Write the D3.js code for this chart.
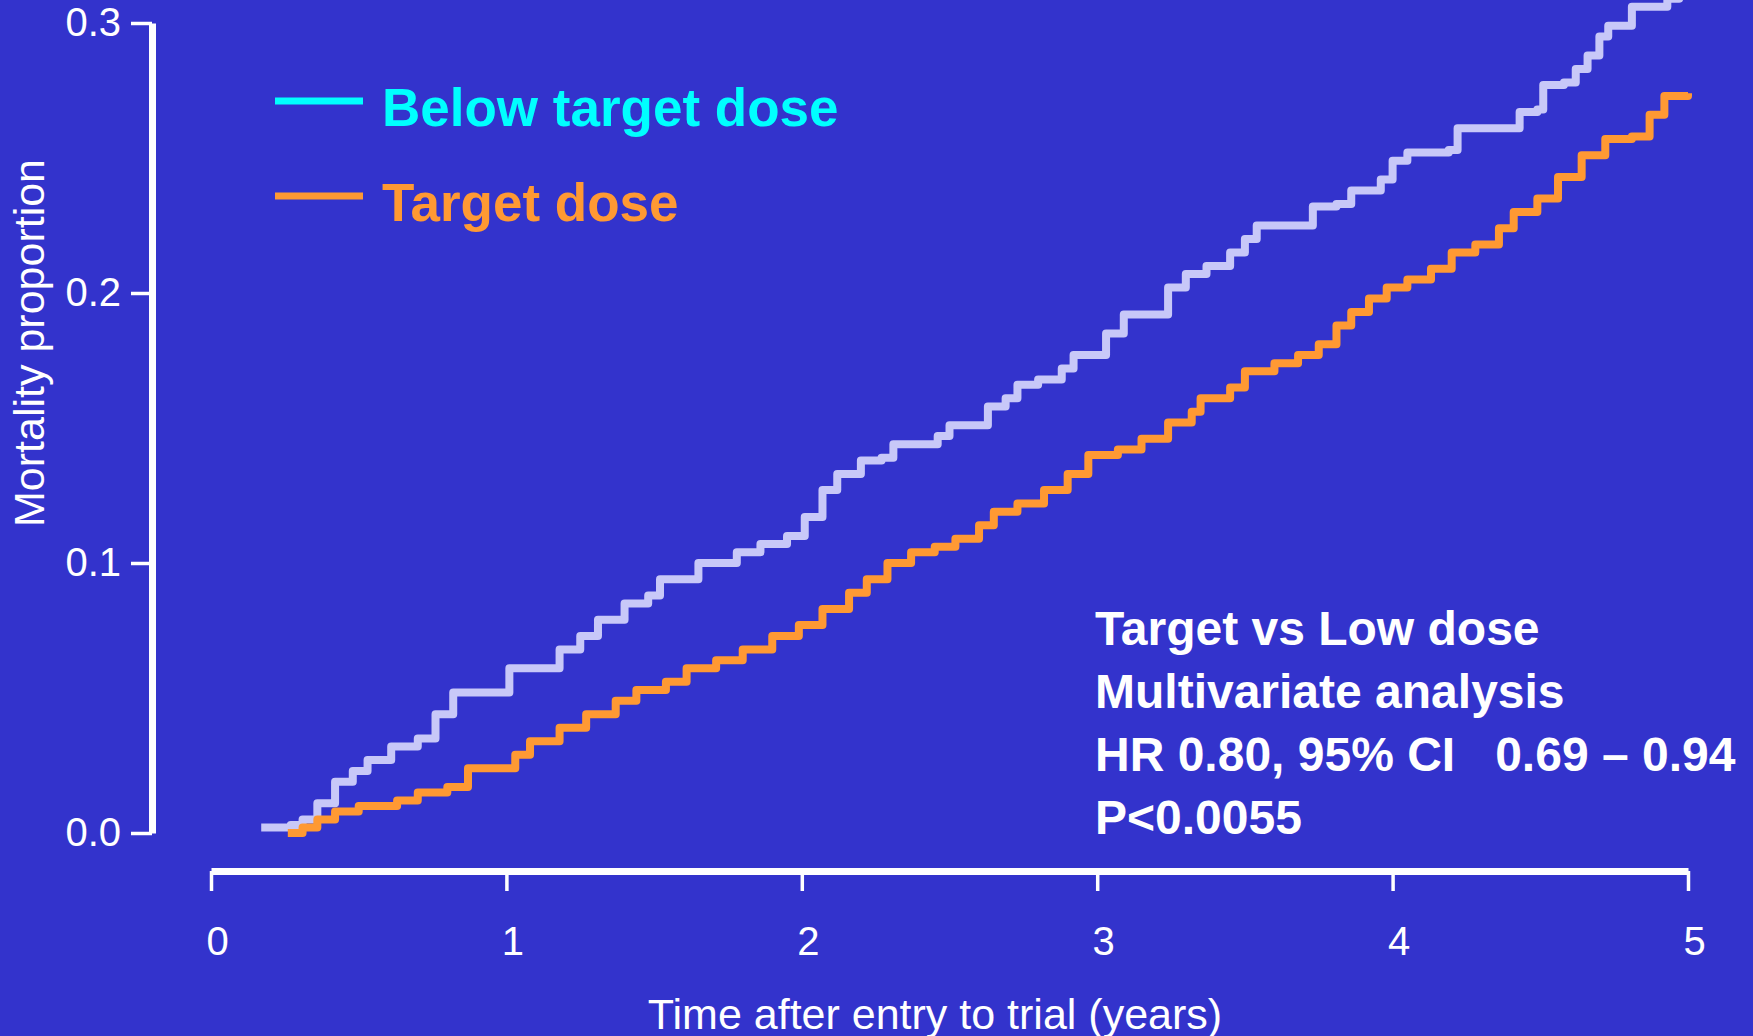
<!DOCTYPE html>
<html>
<head>
<meta charset="utf-8">
<script src="https://cdn.jsdelivr.net/npm/d3@7"></script>
<style>
  html, body { margin: 0; padding: 0; background: #3333cc; overflow: hidden; }
  svg { display: block; font-family: Arial, "Liberation Sans", sans-serif; }
</style>
</head>
<body>
<svg id="chart" width="1753" height="1036"></svg>
<script>
// years after entry, cumulative mortality
const belowYears = [0.17, 0.27, 0.31, 0.36, 0.42, 0.48, 0.53, 0.61, 0.70, 0.76, 0.82, 0.95, 1.01, 1.12, 1.18, 1.25, 1.31, 1.37, 1.40, 1.48, 1.52, 1.59, 1.65, 1.74, 1.78, 1.86, 1.95, 2.01, 2.07, 2.12, 2.20, 2.27, 2.31, 2.46, 2.50, 2.58, 2.63, 2.69, 2.73, 2.80, 2.88, 2.92, 2.99, 3.03, 3.09, 3.18, 3.24, 3.30, 3.37, 3.45, 3.50, 3.54, 3.68, 3.73, 3.81, 3.86, 3.96, 4.00, 4.05, 4.19, 4.22, 4.39, 4.43, 4.49, 4.51, 4.58, 4.62, 4.66, 4.70, 4.73, 4.81, 4.90, 4.93, 4.97]
const belowMort  = [0.002, 0.003, 0.005, 0.011, 0.019, 0.023, 0.027, 0.032, 0.035, 0.044, 0.052, 0.052, 0.061, 0.061, 0.068, 0.073, 0.079, 0.079, 0.085, 0.088, 0.094, 0.094, 0.100, 0.100, 0.104, 0.107, 0.110, 0.117, 0.127, 0.133, 0.138, 0.139, 0.144, 0.147, 0.151, 0.151, 0.158, 0.161, 0.166, 0.168, 0.172, 0.177, 0.177, 0.185, 0.192, 0.192, 0.202, 0.207, 0.210, 0.215, 0.220, 0.225, 0.225, 0.232, 0.233, 0.238, 0.242, 0.249, 0.252, 0.253, 0.261, 0.261, 0.267, 0.268, 0.277, 0.278, 0.283, 0.288, 0.295, 0.299, 0.306, 0.306, 0.309, 0.313]

const targetYears = [0.26, 0.31, 0.36, 0.42, 0.50, 0.63, 0.70, 0.80, 0.87, 0.95, 1.03, 1.08, 1.18, 1.27, 1.37, 1.44, 1.54, 1.61, 1.71, 1.80, 1.90, 1.99, 2.07, 2.16, 2.22, 2.29, 2.37, 2.45, 2.52, 2.60, 2.65, 2.73, 2.82, 2.90, 2.97, 3.07, 3.15, 3.24, 3.32, 3.35, 3.45, 3.50, 3.60, 3.68, 3.75, 3.81, 3.86, 3.92, 3.98, 4.05, 4.13, 4.20, 4.28, 4.36, 4.41, 4.49, 4.56, 4.64, 4.72, 4.81, 4.87, 4.92, 5.00]
const targetMort  = [0.000, 0.002, 0.005, 0.008, 0.010, 0.012, 0.015, 0.017, 0.024, 0.024, 0.029, 0.034, 0.039, 0.044, 0.049, 0.053, 0.056, 0.061, 0.064, 0.068, 0.073, 0.077, 0.083, 0.089, 0.094, 0.100, 0.104, 0.106, 0.109, 0.114, 0.119, 0.122, 0.127, 0.133, 0.140, 0.142, 0.146, 0.152, 0.156, 0.161, 0.165, 0.171, 0.174, 0.177, 0.181, 0.188, 0.193, 0.198, 0.202, 0.205, 0.209, 0.215, 0.218, 0.224, 0.230, 0.235, 0.243, 0.251, 0.257, 0.258, 0.266, 0.273, 0.274]

const xTicks = [0, 1, 2, 3, 4, 5]
const yTicks = [0, 0.1, 0.2, 0.3]
const legendLabels = ['Below target dose', 'Target dose']
const noteLines = ['Target vs Low dose', 'Multivariate analysis', 'HR 0.80, 95% CI   0.69 \u2013 0.94', 'P<0.0055']

const lavender = '#c8c8f8'
const orange = '#ff9933'
const cyan = '#00ffff'

const svg = d3.select('#chart')

const x = d3.scaleLinear().domain([0, 5]).range([211, 1688])
const y = d3.scaleLinear().domain([0, 0.3]).range([833, 23])

// y axis
const yAxis = svg.append('g')
    .attr('transform', 'translate(152,0)')
    .call(d3.axisLeft(y).tickValues(yTicks).tickFormat(d3.format('.1f'))
        .tickSize(21).tickSizeOuter(0).tickPadding(10))
yAxis.select('.domain').attr('stroke', '#fff').attr('stroke-width', 7)
yAxis.selectAll('.tick line').attr('stroke', '#fff').attr('stroke-width', 3.5)
yAxis.selectAll('.tick text')
    .attr('fill', '#fff')
    .style('font-size', '40px')
    .attr('font-family', null)

// x axis
const xAxis = svg.append('g')
    .attr('transform', 'translate(0,871)')
    .call(d3.axisBottom(x).tickValues(xTicks).tickFormat(d3.format('d'))
        .tickSize(20).tickSizeOuter(0))
xAxis.select('.domain').attr('stroke', '#fff').attr('stroke-width', 7)
xAxis.selectAll('.tick line').attr('stroke', '#fff').attr('stroke-width', 3.5)
xAxis.selectAll('.tick text')
    .attr('fill', '#fff')
    .attr('x', 6)
    .attr('y', 84)
    .attr('dy', null)
    .style('font-size', '40px')
    .attr('font-family', null)

// axis titles
svg.append('text')
    .attr('transform', 'translate(44,343) rotate(-90)')
    .attr('text-anchor', 'middle')
    .attr('fill', '#fff')
    .style('font-size', '43px')
    .text('Mortality proportion')

svg.append('text')
    .attr('x', 935)
    .attr('y', 1029)
    .attr('text-anchor', 'middle')
    .attr('fill', '#fff')
    .style('font-size', '43px')
    .text('Time after entry to trial (years)')

// curves
const line = d3.line()
    .x(d => x(d[0]))
    .y(d => y(d[1]))
    .curve(d3.curveStepAfter)

const series = [
    { pts: d3.zip(belowYears, belowMort), color: lavender },
    { pts: d3.zip(targetYears, targetMort), color: orange }
]

svg.selectAll('path.km')
    .data(series)
    .enter()
    .append('path')
    .attr('class', 'km')
    .attr('d', d => line(d.pts))
    .attr('fill', 'none')
    .attr('stroke', d => d.color)
    .attr('stroke-width', 8)
    .attr('stroke-linejoin', 'round')

// legend
const legend = svg.append('g')
const legendColors = [cyan, orange]
legendLabels.forEach((lab, i) => {
    const ly = 101 + i * 95
    legend.append('line')
        .attr('x1', 275).attr('x2', 363)
        .attr('y1', ly).attr('y2', ly)
        .attr('stroke', legendColors[i])
        .attr('stroke-width', 7)
    legend.append('text')
        .attr('x', 382)
        .attr('y', ly + 25)
        .attr('fill', legendColors[i])
        .style('font-size', '53px')
        .style('font-weight', 'bold')
        .text(lab)
})

// annotation
svg.append('g')
    .selectAll('text')
    .data(noteLines)
    .enter()
    .append('text')
    .attr('x', 1095)
    .attr('y', (d, i) => 645 + i * 63)
    .attr('fill', '#fff')
    .style('font-size', '48px')
    .style('font-weight', 'bold')
    .style('white-space', 'pre')
    .text(d => d)
</script>
</body>
</html>
